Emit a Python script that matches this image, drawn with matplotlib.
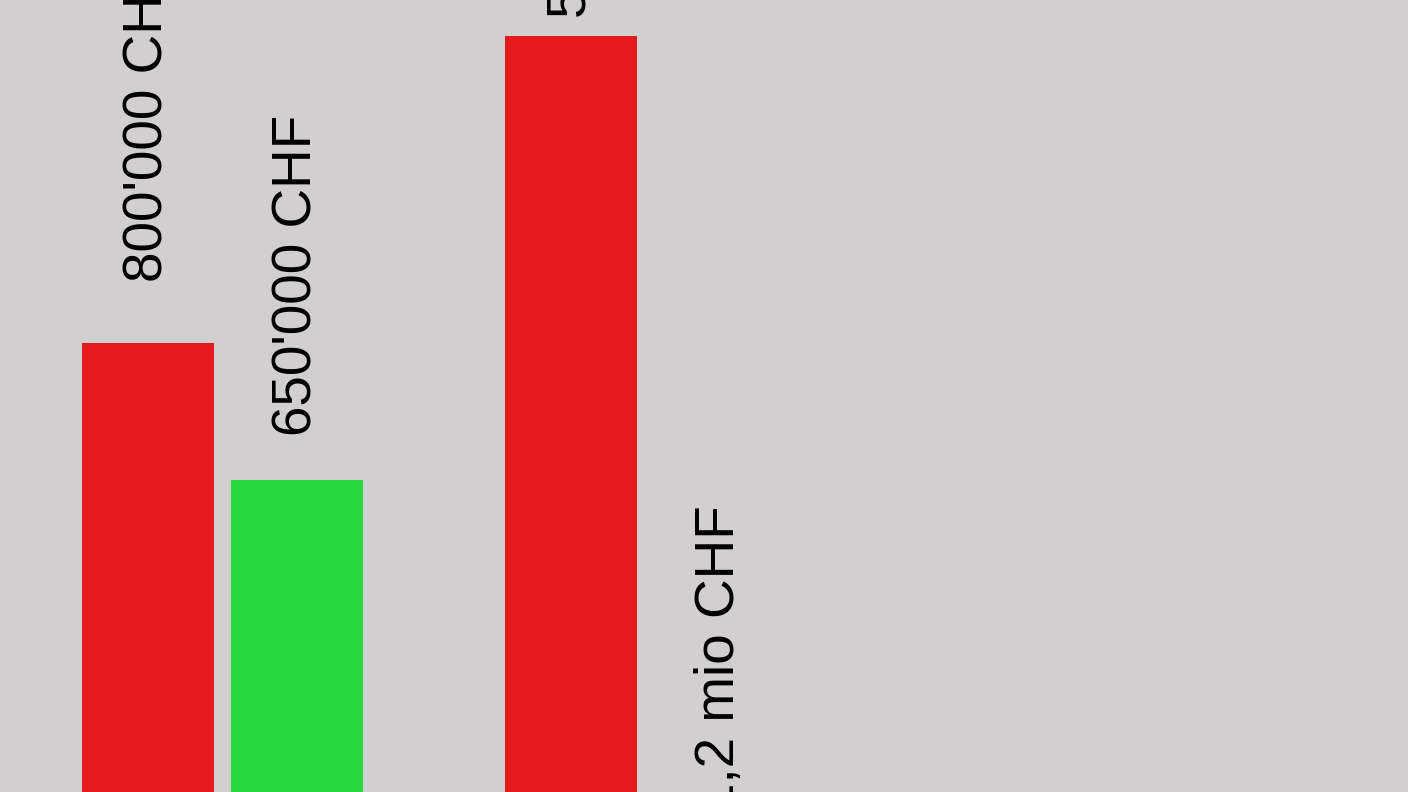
import matplotlib
matplotlib.use("Agg")
import matplotlib.pyplot as plt

# --- data ---
group1_values = [800000, 650000]
group1_labels = ["800'000 CHF", "650'000 CHF"]
group2_values = [5000000, 1200000]
group2_labels = ["5 mio CHF", "1,2 mio CHF"]
bar_colors = ["#e41a1c", "#27d93e"]

# --- style / layout ---
bg = "#d1cfd0"
bar_width = 0.886
group_step = 2.84
label_pads_g1 = [44, 32]   # points above bar top
label_pads_g2 = [13, 8]

fig = plt.figure(figsize=(14.08, 7.92), dpi=100, facecolor=bg)
ax = fig.add_axes([0, 0, 1, 1])
ax.set_facecolor(bg)
ax2 = ax.twinx()
ax2.set_position([0, 0, 1, 1])

for a in (ax, ax2):
    a.set_xlim(-0.9933, 8.4564)
    a.axis("off")

ax.set_ylim(308400, 1175550)
ax2.set_ylim(1354870, 5173578)

font = dict(family=["Liberation Sans", "DejaVu Sans"], fontsize=39.5, color="black")

def draw_group(axis, gi, values, labels, pads):
    xs = [gi * group_step + i for i in range(len(values))]
    axis.bar(xs, values, width=bar_width, color=bar_colors[:len(values)], zorder=2)
    for x, v, lab, pad in zip(xs, values, labels, pads):
        axis.annotate(lab, xy=(x, v), xytext=(0, pad), textcoords="offset points",
                      rotation=90, ha="center", va="bottom",
                      annotation_clip=False, **font)

draw_group(ax, 0, group1_values, group1_labels, label_pads_g1)
draw_group(ax2, 1, group2_values, group2_labels, label_pads_g2)

fig.savefig("out.png", dpi=100, facecolor=bg)
